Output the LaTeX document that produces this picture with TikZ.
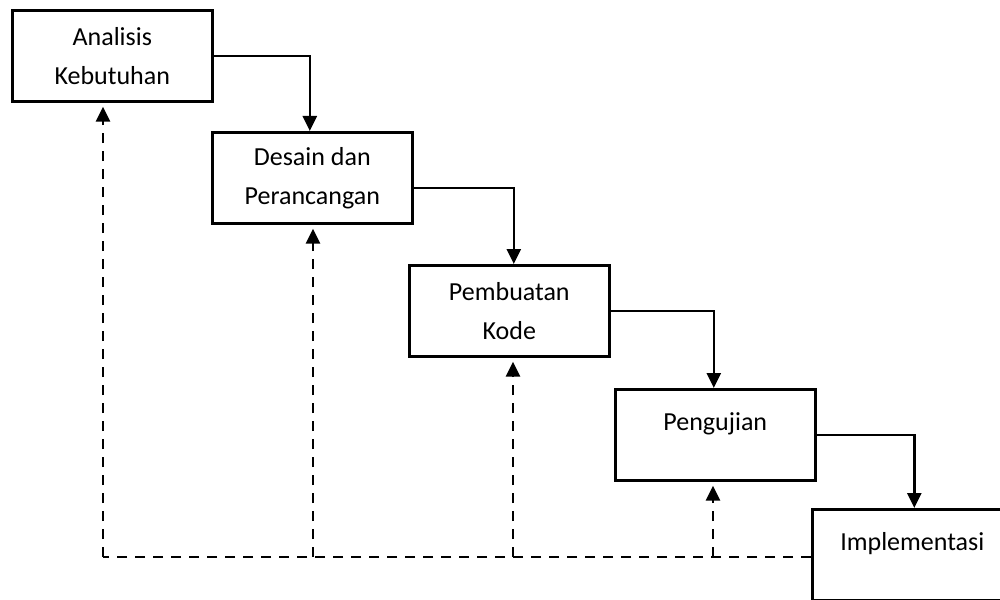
\documentclass[tikz,border=0pt]{standalone}
\usepackage{fontspec}
\setmainfont{Carlito}
\usetikzlibrary{arrows.meta}
\begin{document}
\begin{tikzpicture}[x=1pt,y=-1pt,
  box/.style={draw, line width=2.6pt, minimum width=200pt, minimum height=91pt,
    inner sep=0pt, align=center, anchor=north west,
    font=\fontsize{26}{39}\selectfont},
  onebox/.style={box, text height=19pt, text depth=27pt},
  conn/.style={line width=2.4pt, -{Triangle[width=14pt,length=15pt]}},
  fline/.style={line width=2.8pt, dash pattern=on 10pt off 8pt},
  fback/.style={fline, -{Triangle[width=14pt,length=15pt]}, shorten >=4pt}]
\clip (0,0) rectangle (1000,599);
\fill[white] (0,0) rectangle (1000,599);
\node[box] (a) at (11,9) {Analisis\\Kebutuhan};
\node[box] (b) at (211,131) {Desain dan\\Perancangan};
\node[box] (c) at (408,264) {Pembuatan\\Kode};
\node[onebox] (d) at (614,388) {Pengujian};
\node[onebox] (e) at (811,508) {Implementasi};
\draw[conn] (a.east) -| ([xshift=-2.5pt]b.north);
\draw[conn] ([yshift=-10pt]b.east) -| ([xshift=4.5pt]c.north);
\draw[conn] (c.east) -| ([xshift=-1.5pt]d.north);
\draw[conn] (d.east) -| ([xshift=2pt]e.north);
\coordinate (f1) at (103,557);
\coordinate (f2) at (313,557);
\coordinate (f3) at (513,557);
\coordinate (f4) at (713,557);
\draw[fline] (e.west |- f1) -- (f1);
\draw[fback] (f1) -- (f1 |- a.south);
\draw[fback] (f2) -- (f2 |- b.south);
\draw[fback] (f3) -- (f3 |- c.south);
\draw[fback] (f4) -- (f4 |- d.south);
\end{tikzpicture}
\end{document}
